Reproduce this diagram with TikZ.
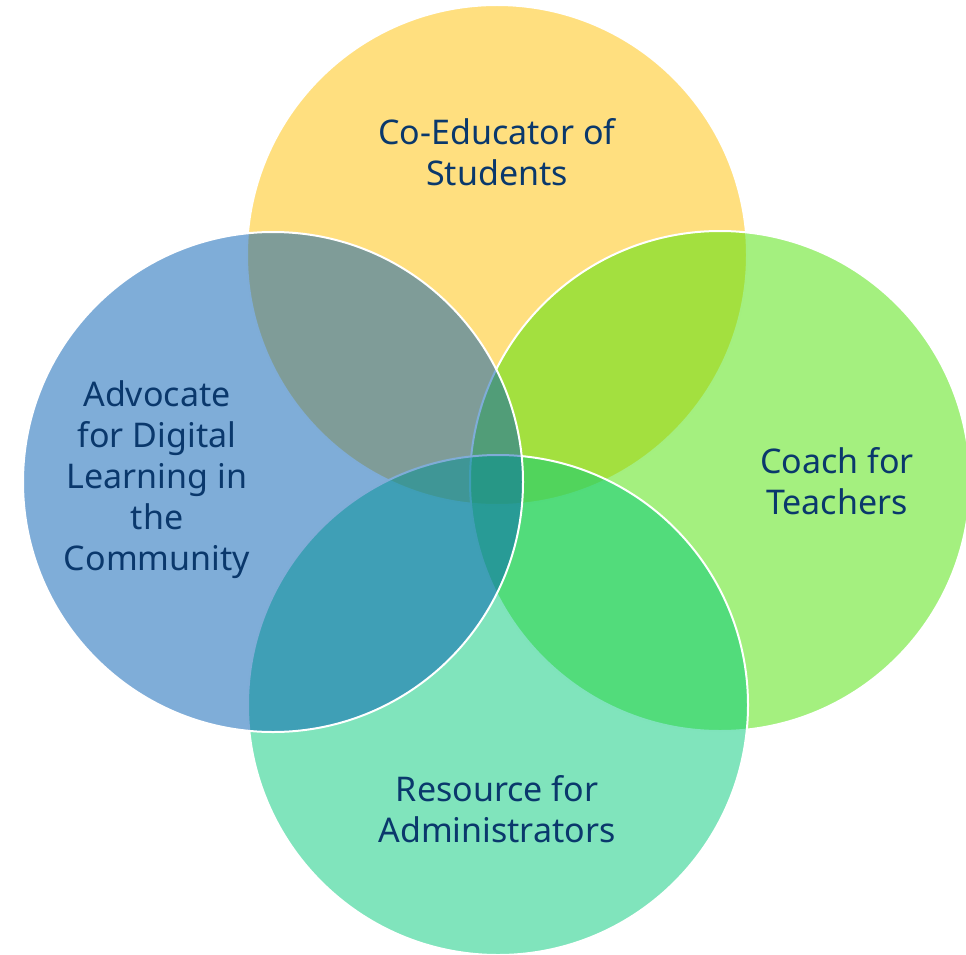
\documentclass[tikz,border=0pt]{standalone}
\usepackage{fontspec}
\setmainfont{Noto Sans}
\definecolor{cYel}{RGB}{255,192,0}
\definecolor{cBlu}{RGB}{0,91,177}
\definecolor{cGrn}{RGB}{73,225,0}
\definecolor{cTea}{RGB}{1,201,121}
\definecolor{cTxt}{RGB}{10,56,108}
\tikzset{
  venn/.style={circle, minimum size=500pt, inner sep=0pt, fill opacity=0.5, draw=white, draw opacity=1, line width=2pt},
  lbl/.style={align=center, text=cTxt, font=\fontsize{34}{41}\selectfont, inner sep=0pt}
}
\begin{document}
\begin{tikzpicture}[x=1pt,y=-1pt]
\useasboundingbox (0,0) rectangle (966,955);
\clip (0,0) rectangle (966,955);
\node[venn, fill=cYel] (ctop) at (497,255) {};
\node[venn, fill=cGrn] (cright) at (720,481) {};
\node[venn, fill=cTea] (cbot) at (498,705) {};
\node[venn, fill=cBlu] (cleft) at (273,482) {};
\node[lbl] (ttop) at (497,152) {Co-Educator of\\Students};
\node[lbl] (tright) at (837,481) {Coach for\\Teachers};
\node[lbl] (tbot) at (497,809) {Resource for\\Administrators};
\node[lbl] (tleft) at (157,480) {Advocate\\for Digital\\Learning in\\the\\Community};
\end{tikzpicture}
\end{document}
